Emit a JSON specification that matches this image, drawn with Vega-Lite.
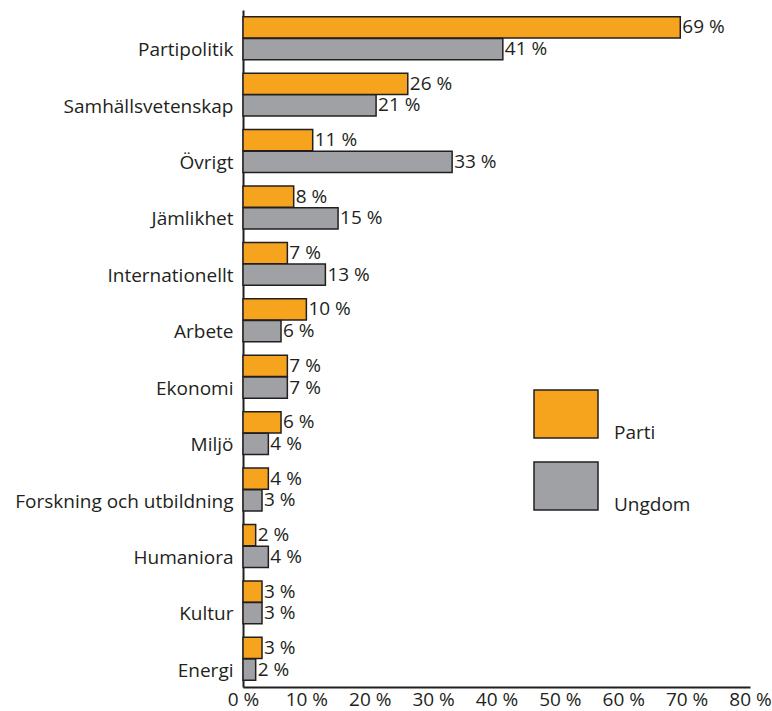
{
  "$schema": "https://vega.github.io/schema/vega-lite/v6.json",
  "width": 507,
  "height": 677,
  "autosize": "none",
  "padding": {"left": 243, "top": 10, "right": 22, "bottom": 24},
  "background": "white",
  "config": {
    "font": "Open Sans",
    "view": {"stroke": null},
    "axis": {"labelFont": "Open Sans", "labelFontSize": 19, "labelColor": "#231f20", "domainColor": "#231f20", "domainWidth": 2, "ticks": false, "grid": false, "title": null, "labelLimit": 300}
  },
  "data": {
    "values": [
      {"topic": "Partipolitik", "group": "Parti", "value": 69, "label": "69 %"},
      {"topic": "Partipolitik", "group": "Ungdom", "value": 41, "label": "41 %"},
      {"topic": "Samhällsvetenskap", "group": "Parti", "value": 26, "label": "26 %"},
      {"topic": "Samhällsvetenskap", "group": "Ungdom", "value": 21, "label": "21 %"},
      {"topic": "Övrigt", "group": "Parti", "value": 11, "label": "11 %"},
      {"topic": "Övrigt", "group": "Ungdom", "value": 33, "label": "33 %"},
      {"topic": "Jämlikhet", "group": "Parti", "value": 8, "label": "8 %"},
      {"topic": "Jämlikhet", "group": "Ungdom", "value": 15, "label": "15 %"},
      {"topic": "Internationellt", "group": "Parti", "value": 7, "label": "7 %"},
      {"topic": "Internationellt", "group": "Ungdom", "value": 13, "label": "13 %"},
      {"topic": "Arbete", "group": "Parti", "value": 10, "label": "10 %"},
      {"topic": "Arbete", "group": "Ungdom", "value": 6, "label": "6 %"},
      {"topic": "Ekonomi", "group": "Parti", "value": 7, "label": "7 %"},
      {"topic": "Ekonomi", "group": "Ungdom", "value": 7, "label": "7 %"},
      {"topic": "Miljö", "group": "Parti", "value": 6, "label": "6 %"},
      {"topic": "Miljö", "group": "Ungdom", "value": 4, "label": "4 %"},
      {"topic": "Forskning och utbildning", "group": "Parti", "value": 4, "label": "4 %"},
      {"topic": "Forskning och utbildning", "group": "Ungdom", "value": 3, "label": "3 %"},
      {"topic": "Humaniora", "group": "Parti", "value": 2, "label": "2 %"},
      {"topic": "Humaniora", "group": "Ungdom", "value": 4, "label": "4 %"},
      {"topic": "Kultur", "group": "Parti", "value": 3, "label": "3 %"},
      {"topic": "Kultur", "group": "Ungdom", "value": 3, "label": "3 %"},
      {"topic": "Energi", "group": "Parti", "value": 3, "label": "3 %"},
      {"topic": "Energi", "group": "Ungdom", "value": 2, "label": "2 %"}
    ]
  },
  "encoding": {
    "y": {
      "field": "topic", "type": "nominal", "sort": null,
      "scale": {"paddingInner": 0.24, "paddingOuter": 0.12},
      "axis": {"labelPadding": 10, "labelOffset": 12}
    },
    "yOffset": {"field": "group", "type": "nominal", "sort": ["Parti", "Ungdom"], "scale": {"paddingInner": 0.02}},
    "x": {
      "field": "value", "type": "quantitative",
      "scale": {"domain": [0, 80], "nice": false},
      "axis": {"values": [0, 10, 20, 30, 40, 50, 60, 70, 80], "labelExpr": "datum.value + ' %'", "labelPadding": 3, "labelFlush": false}
    }
  },
  "layer": [
    {
      "mark": {"type": "bar", "stroke": "#231f20", "strokeWidth": 1.5},
      "encoding": {
        "color": {
          "field": "group", "type": "nominal",
          "scale": {"domain": ["Parti", "Ungdom"], "range": ["#f6a41d", "#a0a1a5"]},
          "legend": {
            "orient": "none", "legendX": 290, "legendY": 371, "title": null,
            "symbolType": "M-1,-0.75H1V0.75H-1Z", "symbolSize": 4096,
            "symbolStrokeColor": "#231f20", "symbolStrokeWidth": 1.5, "symbolOpacity": 1,
            "labelFont": "Open Sans", "labelFontSize": 19, "labelColor": "#231f20", "labelOffset": 15,
            "rowPadding": 10, "labelBaseline": "alphabetic",
            "encode": {"labels": {"update": {"dy": {"value": 25}}}}
          }
        }
      }
    },
    {
      "mark": {"type": "text", "align": "left", "baseline": "middle", "dx": 2, "fontSize": 19, "font": "Open Sans", "color": "#231f20"},
      "encoding": {"text": {"field": "label"}}
    }
  ]
}
